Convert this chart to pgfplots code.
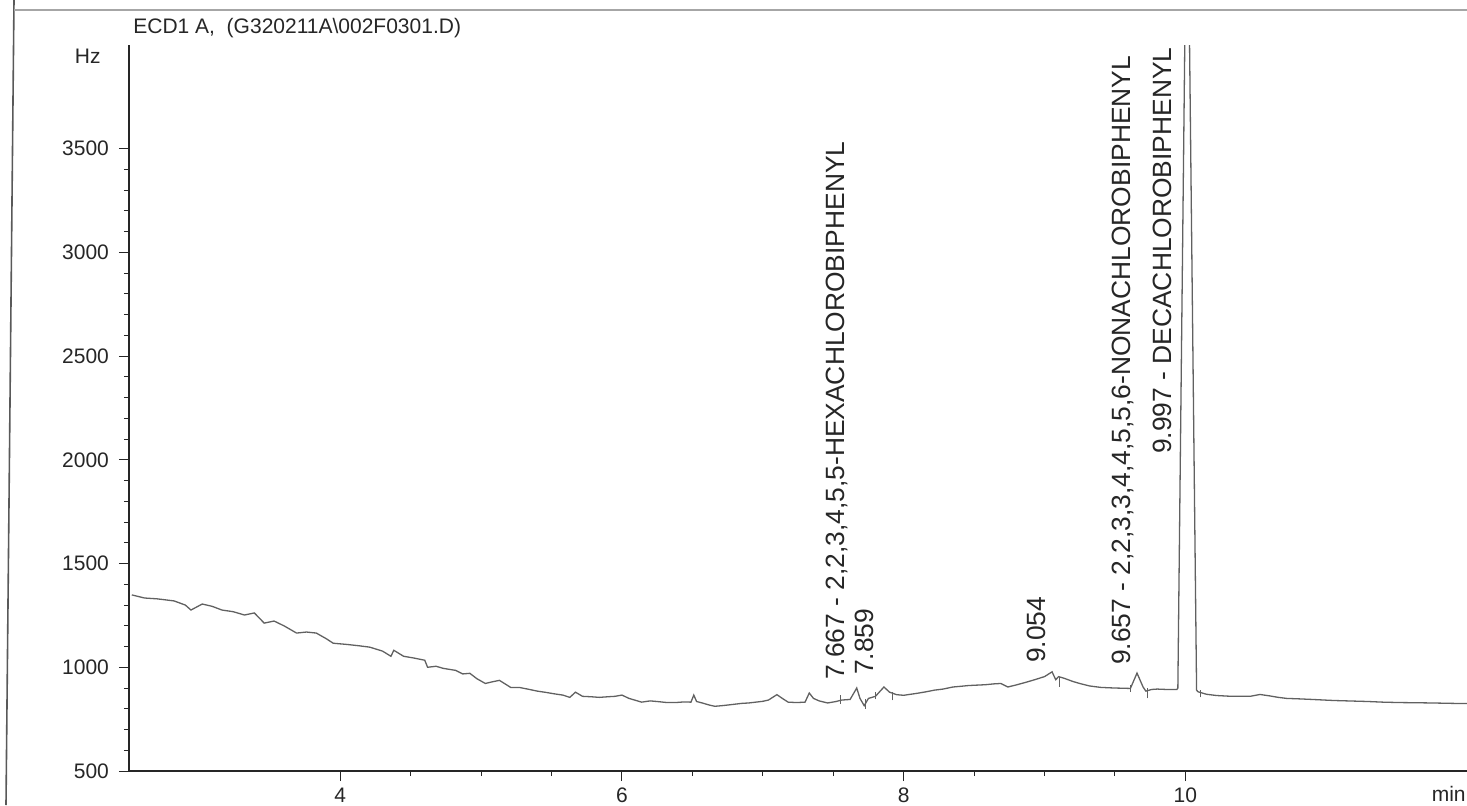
\documentclass[border=0pt]{standalone}
\usepackage{pgfplots}
\pgfplotsset{compat=1.18}
\usepackage{fontspec}
\setmainfont{Liberation Sans}
\begin{document}
\begin{tikzpicture}[x=1pt,y=1pt]
\path[use as bounding box] (0,0) rectangle (733.5,402.5);
\draw[black!65, line width=0.8pt] (7,402.5) -- (3,0);
\draw[black!35, line width=0.6pt] (7,397.5) -- (733.5,397.5);
\begin{axis}[
  at={(64.5pt,17pt)}, anchor=south west,
  scale only axis, width=669pt, height=363pt,
  xmin=2.5, xmax=12, ymin=500, ymax=4000,
  axis x line*=bottom, axis y line*=left,
  axis line style={black!85, line width=0.6pt},
  xtick={4,6,8,10}, minor x tick num=3,
  ytick={500,1000,...,3500}, minor y tick num=4,
  tick align=outside, major tick length=5pt, minor tick length=2.5pt,
  tick style={black!85, line width=0.5pt},
  /pgf/number format/assume math mode=true,
  /pgf/number format/1000 sep={},
  ticklabel style={font=\fontsize{10.5}{12}\selectfont, text=black!85},
  yticklabel style={xshift=-1.5pt},
  clip mode=individual,
]
\addplot[black!62, line width=0.65pt] coordinates {
(2.52,1349)(2.61,1334)(2.70,1330)(2.82,1320)(2.90,1300)(2.94,1276)(3.02,1305)(3.09,1294)(3.16,1276)
(3.24,1268)(3.32,1252)(3.39,1262)(3.46,1213)(3.53,1223)(3.60,1200)(3.69,1165)(3.76,1170)(3.83,1165)
(3.90,1138)(3.95,1116)(4.05,1110)(4.13,1104)(4.21,1097)(4.30,1078)(4.36,1053)(4.38,1082)(4.45,1053)
(4.52,1045)(4.60,1034)(4.62,1000)(4.68,1005)(4.73,995)(4.82,985)(4.87,968)(4.92,971)(4.97,945)
(5.03,922)(5.08,930)(5.13,937)(5.21,903)(5.27,903)(5.33,895)(5.40,885)(5.46,879)(5.52,872)
(5.58,866)(5.63,855)(5.67,880)(5.72,860)(5.78,858)(5.84,855)(5.90,858)(5.95,860)(6.00,866)
(6.05,850)(6.10,840)(6.14,832)(6.20,838)(6.25,835)(6.32,830)(6.38,830)(6.44,833)(6.49,832)
(6.51,866)(6.53,835)(6.57,828)(6.62,818)(6.66,812)(6.71,815)(6.75,818)(6.80,822)(6.85,826)
(6.90,828)(6.95,832)(7.00,836)(7.04,842)(7.10,868)(7.15,845)(7.18,832)(7.24,830)(7.30,832)
(7.33,876)(7.36,850)(7.40,838)(7.46,828)(7.52,835)(7.56,842)(7.62,845)(7.667,900)(7.69,850)
(7.72,815)(7.75,850)(7.80,860)(7.86,905)(7.90,880)(7.95,868)(8.00,865)(8.05,870)(8.10,875)
(8.16,882)(8.22,890)(8.28,895)(8.35,905)(8.40,908)(8.46,912)(8.52,914)(8.58,916)(8.64,920)
(8.69,922)(8.74,905)(8.80,915)(8.87,928)(8.93,940)(9.00,955)(9.054,978)(9.08,940)(9.10,955)
(9.14,947)(9.20,932)(9.25,922)(9.32,910)(9.40,903)(9.50,900)(9.56,899)(9.61,898)(9.657,972)
(9.70,905)(9.72,885)(9.76,893)(9.80,895)(9.87,893)(9.94,893)(9.947,900)(10.013,5066)(10.08,890)
(10.09,882)(10.15,870)(10.22,864)(10.30,861)(10.35,860)(10.46,860)(10.53,869)(10.60,862)
(10.66,855)(10.72,850)(10.80,848)(10.90,845)(11.05,840)(11.20,837)(11.30,835)(11.40,832)
(11.52,830)(11.65,829)(11.75,828)(11.90,826)(12.00,825)
};
\addplot[black!62, line width=0.5pt] coordinates {(7.55,825)(7.55,865)};
\addplot[black!62, line width=0.5pt] coordinates {(7.73,800)(7.73,845)};
\addplot[black!62, line width=0.5pt] coordinates {(7.80,845)(7.80,880)};
\addplot[black!62, line width=0.5pt] coordinates {(7.92,840)(7.92,880)};
\addplot[black!62, line width=0.5pt] coordinates {(9.11,905)(9.11,955)};
\addplot[black!62, line width=0.5pt] coordinates {(9.61,880)(9.61,915)};
\addplot[black!62, line width=0.5pt] coordinates {(9.73,850)(9.73,900)};
\addplot[black!62, line width=0.5pt] coordinates {(10.11,855)(10.11,890)};
\node[anchor=base west, inner sep=0pt, font=\fontsize{10.5}{12}\selectfont, text=black!85] at (rel axis cs:0,1) [xshift=2pt, yshift=6pt] {ECD1 A,\ \ (G320211A\textbackslash 002F0301.D)};
\node[anchor=base east, inner sep=0pt, font=\fontsize{10.5}{12}\selectfont, text=black!85] at (rel axis cs:0,1) [xshift=-14pt, yshift=-9pt] {Hz};
\node[anchor=base east, inner sep=0pt, font=\fontsize{10.5}{12}\selectfont, text=black!85] at (rel axis cs:1,0) [xshift=-0.5pt, yshift=-15pt] {min};
\node[rotate=90, anchor=base west, inner sep=0pt, font=\fontsize{13.2}{15}\selectfont, text=black!85] at (axis cs:7.580,937) {7.667 - 2,2,3,4,5,5-HEXACHLOROBIPHENYL};
\node[rotate=90, anchor=base west, inner sep=0pt, font=\fontsize{13.2}{15}\selectfont, text=black!85] at (axis cs:7.785,961) {7.859};
\node[rotate=90, anchor=base west, inner sep=0pt, font=\fontsize{13.2}{15}\selectfont, text=black!85] at (axis cs:9.007,1019) {9.054};
\node[rotate=90, anchor=base west, inner sep=0pt, font=\fontsize{13.2}{15}\selectfont, text=black!85] at (axis cs:9.608,1010) {9.657 - 2,2,3,3,4,4,5,5,6-NONACHLOROBIPHENYL};
\node[rotate=90, anchor=base west, inner sep=0pt, font=\fontsize{13.2}{15}\selectfont, text=black!85] at (axis cs:9.905,2027) {9.997 - DECACHLOROBIPHENYL};
\end{axis}
\end{tikzpicture}
\end{document}
